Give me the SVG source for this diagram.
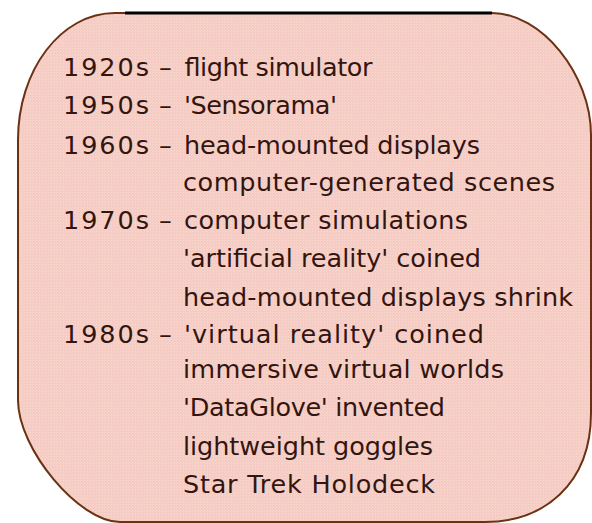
<svg xmlns="http://www.w3.org/2000/svg" width="592" height="523" viewBox="0 0 592 523">
  <defs>
    <pattern id="dots" width="3" height="3" patternUnits="userSpaceOnUse">
      <rect width="3" height="3" fill="#f6cbc6"/>
      <rect x="0" y="0" width="1" height="1" fill="#f4e0ca"/>
      <rect x="2" y="1" width="1" height="1" fill="#f7d6c8"/>
    </pattern>
  </defs>
  <style>
    .t { font-family: "DejaVu Sans", "Liberation Sans", sans-serif; font-size: 25.5px; fill: #331510; }
  </style>
  <rect width="592" height="523" fill="#ffffff"/>
  <g id="panel">
    <path d="M115,13 L492,13 C541,13 591,74 591,135 L591,413 C591,485 543,522 485,522 L120,522 C79,522 18,449 18,400 L18,140 C18,70 61,13 115,13 Z" fill="url(#dots)" stroke="#6a3112" stroke-width="2"/>
    <line x1="125" y1="13" x2="492" y2="13" stroke="#000000" stroke-width="3"/>
  </g>
  <g id="timeline">
    <text class="t" y="76"><tspan x="63" textLength="86">1920s</tspan><tspan x="151"> – </tspan><tspan x="184" textLength="188">flight simulator</tspan></text>
    <text class="t" y="114"><tspan x="63" textLength="86">1950s</tspan><tspan x="151"> – </tspan><tspan x="184" textLength="153">'Sensorama'</tspan></text>
    <text class="t" y="154"><tspan x="63" textLength="86">1960s</tspan><tspan x="151"> – </tspan><tspan x="184" textLength="296">head-mounted displays</tspan></text>
    <text class="t" x="183" y="191" textLength="372">computer-generated scenes</text>
    <text class="t" y="229"><tspan x="63" textLength="86">1970s</tspan><tspan x="151"> – </tspan><tspan x="184" textLength="284">computer simulations</tspan></text>
    <text class="t" x="183" y="267" textLength="298">'artificial reality' coined</text>
    <text class="t" x="183" y="306" textLength="390">head-mounted displays shrink</text>
    <text class="t" y="343"><tspan x="63" textLength="86">1980s</tspan><tspan x="151"> – </tspan><tspan x="184" textLength="300">'virtual reality' coined</tspan></text>
    <text class="t" x="183" y="378" textLength="321">immersive virtual worlds</text>
    <text class="t" x="183" y="416" textLength="262">'DataGlove' invented</text>
    <text class="t" x="183" y="455" textLength="250">lightweight goggles</text>
    <text class="t" x="183" y="493" textLength="252">Star Trek Holodeck</text>
  </g>
</svg>
